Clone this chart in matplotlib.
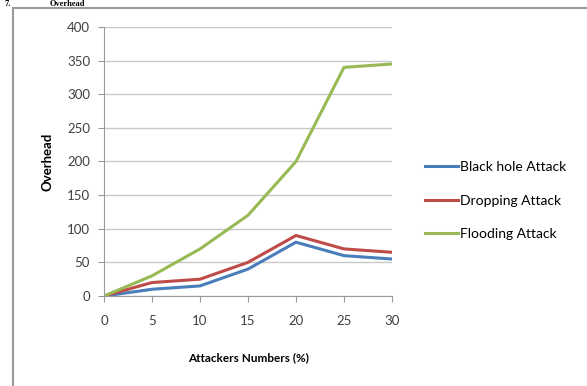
import matplotlib.pyplot as plt
from matplotlib.patches import Rectangle

attackers = [0, 5, 10, 15, 20, 25, 30]
black_hole = [0, 10, 15, 40, 80, 60, 55]
dropping = [0, 20, 25, 50, 90, 70, 65]
flooding = [0, 30, 70, 120, 200, 340, 345]

plt.rcParams['font.family'] = ['Lato', 'DejaVu Sans']

fig = plt.figure(figsize=(5.87, 3.86), dpi=100)
fig.patch.set_facecolor('white')
# outer chart border
fig.patches.append(Rectangle((13 / 587, -0.05), 0.99, 1 - 8 / 386 + 0.05,
                             transform=fig.transFigure, fill=False,
                             edgecolor='#9a9a9a', linewidth=1.5))
# section heading at the very top
fig.text(0.008, 0.999, '7.', fontsize=6, fontweight='bold', family='Liberation Serif', va='top')
fig.text(0.085, 0.999, 'Overhead', fontsize=6, fontweight='bold', family='Liberation Serif', va='top')

ax = fig.add_axes([104 / 587, 1 - 296 / 386, (392 - 104) / 587, (296 - 27) / 386])
ax.plot(attackers, black_hole, color='#4a7ebb', lw=2.2, label='Black hole Attack')
ax.plot(attackers, dropping, color='#be4b48', lw=2.2, label='Dropping Attack')
ax.plot(attackers, flooding, color='#98b954', lw=2.2, label='Flooding Attack')

ax.set_xlim(0, 30)
ax.set_ylim(0, 400)
ax.set_xticks(attackers)
ax.set_yticks(range(0, 401, 50))
ax.grid(axis='y', color='#c8c8c8', lw=1)
ax.set_axisbelow(True)
for s in ['top', 'right']:
    ax.spines[s].set_visible(False)
for s in ['left', 'bottom']:
    ax.spines[s].set_color('#9a9a9a')
ax.tick_params(colors='#9a9a9a', labelcolor='#404040', labelsize=9.5, length=4, pad=6)
ax.tick_params(axis='x', pad=10)

ax.set_xlabel('Attackers Numbers (%)', fontsize=8.5, fontweight='bold', labelpad=18)
ax.set_ylabel('Overhead', fontsize=9.5, fontweight='bold', labelpad=10)

ax.legend(loc='center left', bbox_to_anchor=(1.07, 0.355), frameon=False,
          fontsize=10, handlelength=2.4, handletextpad=0.15, labelspacing=1.55)

fig.savefig('out.png', dpi=100)
